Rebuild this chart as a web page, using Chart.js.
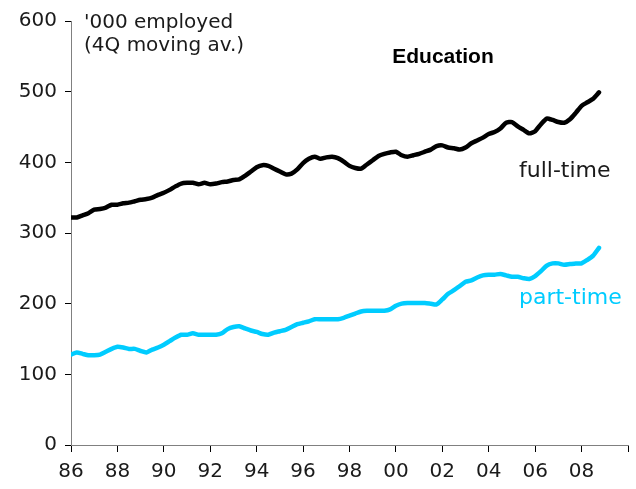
<!DOCTYPE html>
<html>
<head>
<meta charset="utf-8">
<script src="https://cdn.jsdelivr.net/npm/chart.js@4/dist/chart.umd.min.js"></script>
<style>
  html, body { margin: 0; padding: 0; background: #fff; }
  #wrap { width: 636px; height: 489px; position: relative; }
</style>
</head>
<body>
<div id="wrap"><canvas id="c"></canvas></div>
<script>
// Quarterly observations, 1986 Q1 .. 2008 Q4
const startYear = 1986;
const fullTime = [
  322, 322, 325, 328, 333, 334, 336, 340,
  340, 342, 343, 345, 347, 348, 350, 354,
  357, 361, 366, 370, 371, 371, 369, 371,
  369, 370, 372, 373, 375, 376, 381, 387,
  393, 396, 395, 391, 387, 383, 384, 390,
  399, 405, 408, 405, 407, 408, 406, 401,
  395, 392, 391, 397, 403, 409, 412, 414,
  415, 410, 408, 410, 412, 415, 418, 423,
  424, 421, 420, 418, 421, 427, 431, 435,
  440, 443, 448, 456, 457, 451, 446, 441,
  444, 454, 462, 460, 457, 456, 461, 470,
  480, 485, 490, 499
];
const partTime = [
  128, 131, 129, 127, 127, 128, 132, 136,
  139, 138, 136, 136, 133, 131, 135, 138,
  142, 147, 152, 156, 156, 158, 156, 156,
  156, 156, 158, 164, 167, 168, 165, 162,
  160, 157, 156, 159, 161, 163, 167, 171,
  173, 175, 178, 178, 178, 178, 178, 180,
  183, 186, 189, 190, 190, 190, 190, 192,
  197, 200, 201, 201, 201, 201, 200, 199,
  206, 214, 219, 225, 231, 233, 237, 240,
  241, 241, 242, 240, 238, 238, 236, 235,
  239, 246, 254, 257, 257, 255, 256, 257,
  257, 262, 268, 279
];
const quarters = fullTime.map((_, i) => startYear + i / 4);
const yTicks = [0, 100, 200, 300, 400, 500, 600];
const xTickYears = [1986, 1988, 1990, 1992, 1994, 1996, 1998, 2000, 2002, 2004, 2006, 2008, 2010];
const seriesNames = ['full-time', 'part-time'];
const unitNote = ["'000 employed", "(4Q moving av.)"];
const chartTitle = 'Education';

const BLACK = '#000000';
const CYAN = '#00CCFF';
const TEXT = '#1a1a1a';

const labelsPlugin = {
  id: 'labels',
  afterDatasetsDraw(chart) {
    const ctx = chart.ctx;
    const a = chart.chartArea;
    ctx.save();
    ctx.textBaseline = 'alphabetic';
    ctx.fillStyle = TEXT;
    ctx.font = '20px "DejaVu Sans"';
    ctx.textAlign = 'left';
    ctx.fillText(unitNote[0], a.left + 13, 28);
    ctx.fillText(unitNote[1], a.left + 13, 51);
    ctx.fillStyle = '#000';
    ctx.font = 'bold 21px "Liberation Sans"';
    ctx.textAlign = 'center';
    ctx.fillText(chartTitle, 443, 63);
    ctx.font = '22px "DejaVu Sans"';
    ctx.textAlign = 'left';
    ctx.fillStyle = TEXT;
    ctx.fillText(seriesNames[0], 519, 177);
    ctx.fillStyle = CYAN;
    ctx.fillText(seriesNames[1], 519, 304);
    ctx.restore();
  }
};

new Chart(document.getElementById('c'), {
  type: 'line',
  data: {
    datasets: [
      {
        label: seriesNames[0],
        data: quarters.map((q, i) => ({ x: q, y: fullTime[i] })),
        borderColor: BLACK,
        borderWidth: 4.5,
        pointRadius: 0,
        tension: 0.2,
        borderCapStyle: 'round',
        borderJoinStyle: 'round'
      },
      {
        label: seriesNames[1],
        data: quarters.map((q, i) => ({ x: q, y: partTime[i] })),
        borderColor: CYAN,
        borderWidth: 4.5,
        pointRadius: 0,
        tension: 0.2,
        borderCapStyle: 'round',
        borderJoinStyle: 'round'
      }
    ]
  },
  options: {
    responsive: true,
    maintainAspectRatio: false,
    animation: false,
    layout: { padding: { top: 21, right: 4, left: 0, bottom: 0 } },
    plugins: { legend: { display: false }, tooltip: { enabled: false } },
    scales: {
      x: {
        type: 'linear',
        min: 1986,
        max: 2010,
        afterFit: s => { s.height = 44; },
        afterBuildTicks: s => { s.ticks = xTickYears.map(v => ({ value: v })); },
        grid: { drawOnChartArea: false, drawTicks: true, tickLength: 7, color: '#000', lineWidth: 1 },
        border: { display: true, color: '#808080', width: 1 },
        ticks: {
          autoSkip: false,
          maxRotation: 0,
          padding: 8,
          color: TEXT,
          font: { family: '"DejaVu Sans"', size: 20 },
          callback: v => (v >= 2010 ? '' : String(v % 100).padStart(2, '0'))
        }
      },
      y: {
        min: 0,
        max: 600,
        afterFit: s => { s.width = 71; },
        afterBuildTicks: s => { s.ticks = yTicks.map(v => ({ value: v })); },
        grid: { drawOnChartArea: false, drawTicks: true, tickLength: 6, color: '#000', lineWidth: 1 },
        border: { display: true, color: '#808080', width: 1 },
        ticks: {
          padding: 8,
          color: TEXT,
          font: { family: '"DejaVu Sans"', size: 20 }
        }
      }
    }
  },
  plugins: [labelsPlugin]
});
</script>
</body>
</html>
